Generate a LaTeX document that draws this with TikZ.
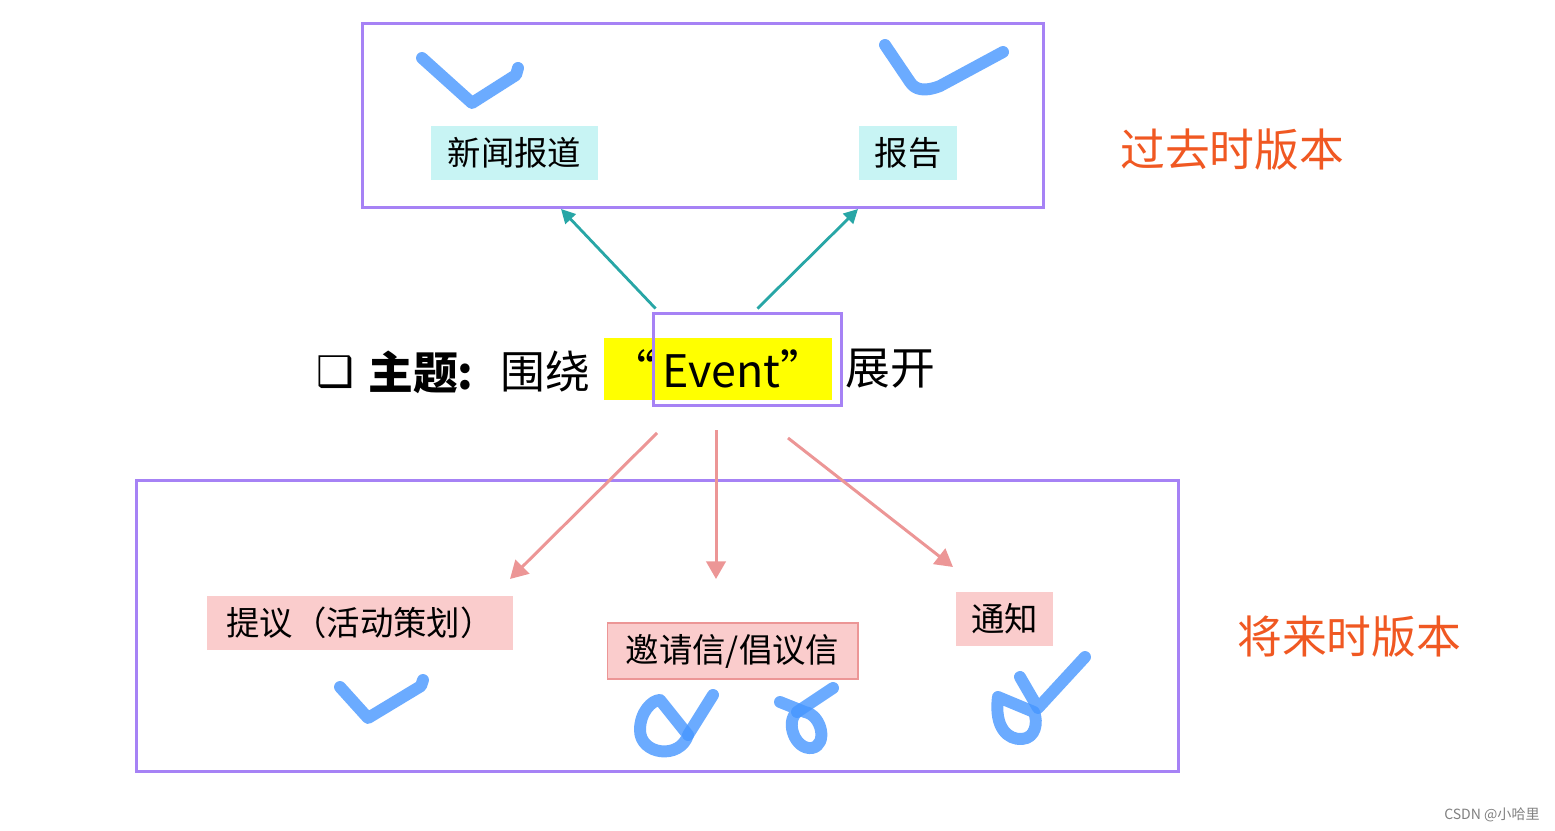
\documentclass[tikz,border=0pt]{standalone}
\usepackage{fontspec}
\setmainfont{Noto Sans CJK SC}
\newfontfamily\symfont{DejaVu Sans}
\usetikzlibrary{arrows.meta,positioning}
\definecolor{boxpurple}{RGB}{166,130,245}
\definecolor{pastcyan}{RGB}{200,244,244}
\definecolor{futurepink}{RGB}{250,204,204}
\definecolor{tenseorange}{RGB}{240,88,34}
\definecolor{arrowteal}{RGB}{40,166,166}
\definecolor{arrowpink}{RGB}{236,150,150}
\definecolor{tickblue}{RGB}{70,150,255}
\definecolor{hlyellow}{RGB}{255,255,0}

\begin{document}
\begin{tikzpicture}[x=0.02cm,y=-0.02cm,
    frame/.style={draw=boxpurple,line width=1.7pt,inner sep=0pt},
    pastlabel/.style={fill=pastcyan,inner sep=0pt,minimum height=1.08cm,font=\fontsize{19}{19}\selectfont},
    futurelabel/.style={fill=futurepink,inner sep=0pt,minimum height=1.08cm,font=\fontsize{19}{19}\selectfont},
    tense/.style={text=tenseorange,anchor=west,inner sep=0pt,font=\fontsize{25.5}{26}\selectfont},
    topic/.style={anchor=west,inner sep=0pt,font=\fontsize{25.5}{26}\selectfont},
    pastarrow/.style={color=arrowteal,line width=1.6pt,-{Triangle[length=8pt,width=8pt]}},
    futurearrow/.style={color=arrowpink,line width=1.7pt,-{Triangle[length=10pt,width=11pt]}},
    tick/.style={draw=tickblue,opacity=0.8,line width=6.8pt,line cap=round,line join=round}]
\useasboundingbox (0,0) rectangle (1555,831);

% frames
\node[frame,minimum width=13.64cm,minimum height=3.7cm] (past) at (703,115.5) {};
\node[frame,minimum width=20.86cm,minimum height=5.84cm] (future) at (657.5,626) {};

% topic line
\node[fill=hlyellow,inner sep=0pt,minimum width=4.56cm,minimum height=1.24cm,
      font=\fontsize{25.5}{26}\selectfont] (hl) at (718,369) {“\,Event”};
\node[frame,minimum width=3.78cm,minimum height=1.86cm] (evt) at (747.5,359.5) {};
\node[topic,font=\symfont\bfseries\fontsize{24}{26}\selectfont] (bul) at (316,372) {❑};
\node[topic] (theme) at (368,372) {\textbf{主题:}};
\node[topic] (around) at (500,372) {围绕};
\node[topic] (unfold) [right=0.26cm of hl] {展开};

% labels
\node[pastlabel,minimum width=3.34cm] (news) at (514.5,153) {新闻报道};
\node[pastlabel,minimum width=1.96cm] (report) at (908,153) {报告};
\node[futurelabel,minimum width=6.12cm] (proposal) at (360,623) {提议（活动策划）};
\node[futurelabel,draw=arrowpink,line width=0.6pt,minimum width=5.02cm,minimum height=1.12cm] (letter) at (732.5,651) {邀请信/倡议信};
\node[futurelabel,minimum width=1.94cm] (notice) at (1004.5,619) {通知};

\node[tense] (pasttense) at (1120,150) {过去时版本};
\node[tense] (futuretense) at (1237,637) {将来时版本};

% arrows
\coordinate (p1) at (561,209);
\coordinate (p2) at (858,209);
\coordinate (f0) at (657,433);
\coordinate (f1) at (510,579);
\coordinate (g0) at (716,430);
\coordinate (g1) at (716,579);
\coordinate (h0) at (788,438);
\coordinate (h1) at (953,567);
\draw[pastarrow] ([xshift=0.08cm,yshift=0.06cm]evt.north west) -- (p1);
\draw[pastarrow] ([xshift=0.2cm,yshift=0.06cm]evt.north) -- (p2);
\draw[futurearrow] (f0) -- (f1);
\draw[futurearrow] (g0) -- (g1);
\draw[futurearrow] (h0) -- (h1);

% ticks
\draw[tick] (422,58) -- (472,103) -- (516,75) -- (518,68);
\draw[tick] (885,45) -- (910,82) .. controls (915,90) and (925,92) .. (940,86) -- (1003,52);
\draw[tick] (340,687) -- (368,718) -- (421,686) -- (423,680);
\draw[tick] (713,695) -- (688,735);
\draw[tick] (688,735) .. controls (680,760) and (640,755) .. (640,730) .. controls (640,712) and (652,700) .. (660,700) -- (688,735);
\draw[tick] (833,688) -- (797,712);
\draw[tick] (797,712) .. controls (785,722) and (795,750) .. (812,748) .. controls (828,745) and (822,715) .. (805,712) -- (780,702);
\draw[tick] (998,697) .. controls (994,728) and (1008,740) .. (1022,739) .. controls (1036,738) and (1038,722) .. (1034,712) -- (998,697);
\draw[tick] (1020,677) -- (1038,708) -- (1085,657);

\node[anchor=east,text=gray,inner sep=0pt,font=\fontsize{8}{8}\selectfont] (mark) at (1540,815) {CSDN @小哈里};
\end{tikzpicture}
\end{document}
